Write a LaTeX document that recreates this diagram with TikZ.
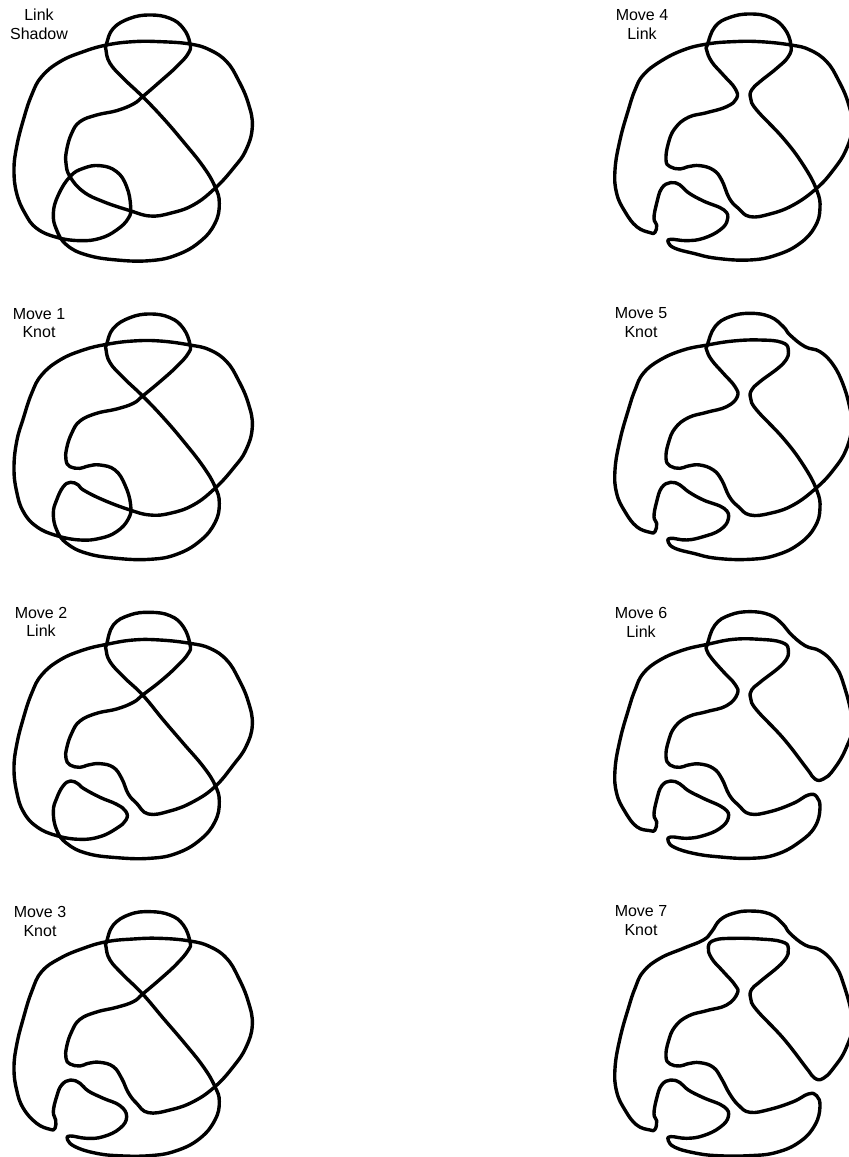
\documentclass[tikz,border=0pt]{standalone}
\usepackage{fontspec}
\setmainfont{Liberation Sans}
\tikzset{
  strand/.style={line width=3.4pt,black,line join=round},
  lbl/.style={font=\fontsize{16}{18.7}\selectfont,align=center,inner sep=0pt,black},
  panel/.style={shift={#1},x=0.3333pt,y=-0.3333pt}
}
\begin{document}
\begin{tikzpicture}[x=1pt,y=-1pt]
\clip (0,0) rectangle (849,1157);
\fill[white] (0,0) rectangle (849,1157);
% Link Shadow
\begin{scope}[panel={(0pt,0pt)}]
\draw[strand] plot[smooth cycle,tension=0.72] coordinates {(320,130)(340,85)(390,55)(450,45)(510,55)(550,85)(570,130)(565,160)(530,200)(480,245)(428,290)(400,312)(350,332)(290,345)(240,365)(215,400)(200,450)(198,490)(210,530)(250,575)(310,605)(390,632)(450,648)(510,640)(580,615)(645,565)(700,505)(738,450)(757,380)(745,310)(715,240)(680,185)(630,150)(570,132)(480,125)(400,125)(320,135)(250,155)(180,185)(125,230)(95,285)(70,360)(50,440)(42,510)(50,580)(75,640)(110,685)(170,712)(240,722)(300,715)(350,690)(385,655)(392,620)(380,560)(350,515)(300,497)(250,505)(210,530)(175,585)(160,640)(170,690)(200,735)(260,765)(350,780)(450,782)(530,765)(600,725)(645,670)(658,610)(645,560)(610,500)(550,425)(490,355)(428,290)(370,235)(330,190)(318,150)};
\end{scope}
\node[lbl] (t0) at (39,24.5) {Link\\Shadow};
% Move 1
\begin{scope}[panel={(0pt,-295pt)}]
\draw[strand] plot[smooth cycle,tension=0.72] coordinates {(320,148)(340,100)(390,68)(450,57)(510,68)(550,100)(570,148)(565,175)(530,215)(480,260)(428,303)(400,325)(350,342)(290,355)(240,378)(215,415)(200,460)(198,495)(210,515)(240,520)(265,513)(300,510)(345,525)(375,570)(392,630)(385,672)(350,710)(300,730)(240,735)(170,722)(110,695)(70,650)(50,590)(42,520)(50,440)(70,370)(95,295)(125,240)(180,195)(250,165)(320,148)(400,138)(480,138)(570,150)(630,165)(680,200)(715,255)(745,325)(757,395)(738,465)(700,520)(645,580)(580,630)(510,655)(450,660)(390,645)(310,615)(250,585)(235,570)(212,562)(190,575)(170,615)(160,655)(170,705)(200,745)(260,775)(350,790)(450,793)(530,778)(600,738)(645,683)(658,625)(645,575)(610,515)(550,438)(490,368)(428,303)(370,248)(330,203)(318,163)};
\end{scope}
\node[lbl] (t1) at (39,323) {Move 1\\Knot};
% Move 2
\begin{scope}[panel={(0pt,-595pt)}]
\draw[strand] plot[smooth cycle,tension=0.72] coordinates {(320,148)(340,90)(390,60)(450,52)(510,62)(550,95)(570,148)(565,175)(530,215)(480,260)(428,300)(400,322)(350,342)(290,355)(240,378)(215,415)(200,460)(198,490)(210,510)(240,517)(265,510)(300,506)(340,517)(365,550)(385,597)(410,625)(445,657)(510,648)(580,620)(645,575)(700,510)(738,455)(757,390)(745,320)(715,250)(680,195)(630,160)(570,145)(480,135)(400,135)(320,148)(250,165)(180,195)(125,240)(95,295)(70,370)(50,450)(42,520)(50,590)(70,650)(110,695)(170,722)(240,733)(300,725)(350,700)(378,675)(378,650)(350,628)(300,607)(250,580)(235,567)(212,558)(190,572)(170,610)(160,650)(170,705)(200,745)(260,775)(350,788)(450,790)(530,775)(600,735)(645,680)(658,620)(645,570)(610,515)(550,445)(490,375)(428,300)(370,245)(330,200)(318,163)};
\end{scope}
\node[lbl] (t2) at (41,622) {Move 2\\Link};
% Move 3
\begin{scope}[panel={(0pt,-890pt)}]
\draw[strand] plot[smooth cycle,tension=0.72] coordinates {(320,155)(340,105)(390,73)(450,65)(510,75)(550,105)(570,155)(565,180)(530,222)(480,268)(428,312)(400,335)(350,352)(290,366)(240,388)(215,425)(200,470)(198,505)(210,522)(240,528)(265,520)(300,517)(340,530)(365,565)(385,608)(410,640)(445,668)(510,660)(580,635)(645,590)(700,530)(738,472)(757,405)(745,335)(715,262)(680,205)(630,170)(570,153)(480,145)(400,147)(320,155)(250,175)(180,205)(125,245)(95,305)(70,385)(50,465)(42,535)(50,600)(70,655)(110,700)(150,718)(165,715)(167,690)(160,665)(170,620)(185,585)(212,570)(240,580)(265,603)(310,625)(360,647)(380,680)(360,715)(310,740)(260,745)(210,738)(203,750)(225,770)(280,788)(350,797)(450,797)(530,782)(600,745)(645,690)(658,635)(645,590)(610,530)(550,455)(490,385)(428,312)(370,255)(330,210)(318,170)};
\end{scope}
\node[lbl] (t3) at (40,921.5) {Move 3\\Knot};
% Move 4
\begin{scope}[panel={(600pt,0pt)}]
\draw[strand] plot[smooth cycle,tension=0.72] coordinates {(322,135)(345,80)(390,52)(450,42)(510,52)(553,85)(573,135)(565,170)(530,205)(480,245)(455,270)(452,295)(470,330)(550,415)(610,495)(650,570)(660,625)(645,680)(600,730)(530,765)(450,780)(350,775)(280,760)(225,745)(205,728)(212,718)(260,722)(310,715)(360,690)(382,660)(372,630)(310,603)(265,578)(240,555)(212,548)(185,565)(170,610)(162,655)(170,675)(165,697)(150,698)(110,680)(75,635)(50,580)(45,510)(60,420)(85,330)(105,270)(130,225)(180,185)(250,150)(322,132)(400,125)(480,125)(573,135)(630,150)(680,185)(715,240)(745,310)(757,380)(738,450)(700,510)(650,565)(580,615)(510,642)(450,650)(415,625)(388,595)(365,540)(340,510)(300,497)(265,500)(240,507)(210,500)(198,480)(205,430)(225,385)(265,352)(320,338)(380,320)(410,295)(405,265)(370,225)(335,185)(320,150)};
\end{scope}
\node[lbl] (t4) at (642,24.5) {Move 4\\Link};
% Move 5
\begin{scope}[panel={(600pt,-295pt)}]
\draw[strand] plot[smooth cycle,tension=0.72] coordinates {(322,150)(345,95)(390,65)(450,55)(510,65)(550,95)(570,120)(615,155)(660,170)(700,210)(730,270)(750,340)(757,390)(738,465)(700,525)(650,578)(580,630)(510,655)(450,660)(415,635)(388,605)(365,555)(340,525)(300,510)(265,513)(240,520)(210,513)(198,490)(205,445)(225,400)(265,368)(320,352)(380,335)(412,305)(405,275)(370,235)(335,195)(320,165)};
\draw[strand] plot[smooth cycle,tension=0.72] coordinates {(322,150)(400,138)(480,135)(545,142)(565,165)(550,205)(480,260)(455,285)(452,310)(470,345)(550,430)(610,510)(650,585)(660,640)(645,695)(600,745)(530,780)(450,793)(350,790)(280,775)(225,760)(205,742)(212,730)(260,735)(310,725)(360,705)(385,672)(372,640)(310,615)(265,590)(240,570)(212,562)(185,578)(170,620)(162,665)(170,685)(165,710)(150,712)(110,695)(75,650)(50,595)(45,525)(60,435)(85,345)(105,285)(130,235)(180,195)(250,165)};
\end{scope}
\node[lbl] (t5) at (641,322.5) {Move 5\\Knot};
% Move 6
\begin{scope}[panel={(600pt,-595pt)}]
\draw[strand] plot[smooth cycle,tension=0.72] coordinates {(322,148)(345,90)(390,60)(450,50)(510,60)(550,90)(570,115)(615,152)(660,168)(700,205)(730,265)(757,385)(738,460)(700,525)(670,552)(645,552)(620,520)(550,430)(470,345)(452,310)(455,285)(480,262)(550,205)(565,165)(545,142)(480,133)(400,133)(322,148)(250,165)(180,195)(130,235)(105,285)(85,345)(60,435)(45,525)(50,595)(75,650)(110,695)(150,707)(165,705)(170,680)(162,660)(170,615)(185,573)(212,558)(240,567)(265,587)(310,610)(372,640)(385,668)(360,700)(310,722)(260,730)(212,726)(205,740)(225,758)(280,775)(350,785)(450,790)(530,778)(600,740)(645,695)(660,640)(650,605)(625,600)(580,625)(510,650)(450,657)(415,630)(388,600)(365,550)(340,520)(300,507)(265,510)(240,517)(210,510)(198,485)(205,440)(225,395)(265,365)(320,350)(380,332)(412,297)(405,268)(370,230)(335,190)(320,165)};
\end{scope}
\node[lbl] (t6) at (641,622.5) {Move 6\\Link};
% Move 7
\begin{scope}[panel={(600pt,-890pt)}]
\draw[strand] plot[smooth cycle,tension=0.72] coordinates {(130,245)(180,205)(250,175)(310,150)(335,125)(360,90)(400,70)(450,63)(510,72)(550,103)(570,130)(615,165)(660,180)(700,218)(730,280)(757,395)(738,475)(700,535)(670,565)(645,565)(620,535)(550,445)(470,360)(452,325)(455,298)(480,275)(550,215)(565,175)(545,155)(480,147)(400,145)(345,150)(325,170)(335,205)(370,245)(405,285)(412,310)(380,345)(320,362)(265,378)(225,410)(205,455)(198,500)(210,522)(240,528)(265,521)(300,518)(340,532)(365,567)(388,610)(415,645)(450,667)(510,658)(580,635)(625,612)(650,617)(660,650)(645,705)(600,755)(530,787)(450,797)(350,797)(280,788)(225,772)(205,752)(212,740)(260,745)(310,737)(360,712)(385,680)(372,650)(310,623)(265,600)(240,578)(212,570)(185,585)(170,625)(162,672)(170,692)(165,718)(150,720)(110,705)(75,660)(50,605)(45,535)(60,445)(85,355)(105,295)};
\end{scope}
\node[lbl] (t7) at (641,920.5) {Move 7\\Knot};
\end{tikzpicture}
\end{document}
